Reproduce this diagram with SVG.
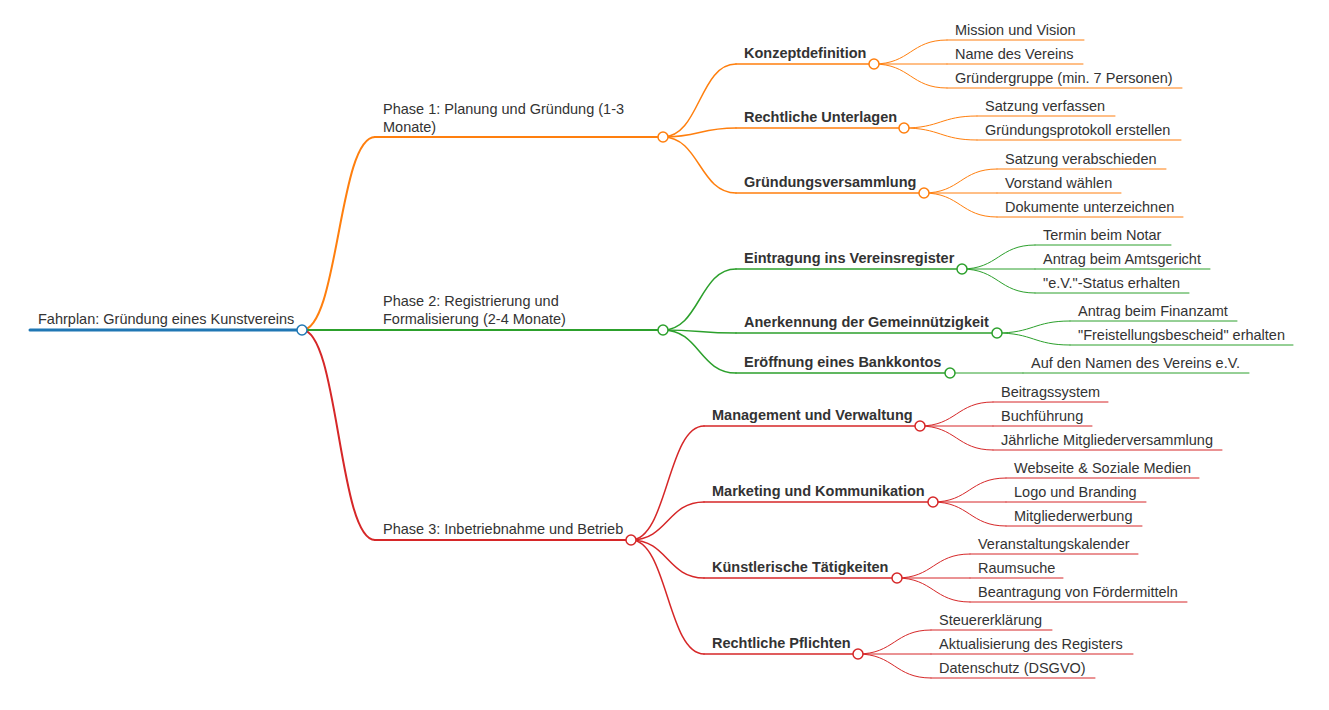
<svg xmlns="http://www.w3.org/2000/svg" width="1329" height="710" viewBox="0 0 1329 710">
<style>
.t{font-family:"Liberation Sans",Arial,sans-serif;font-size:14.5px;fill:#333}
.b{font-weight:bold}
path,line{fill:none;stroke-linecap:round}
circle{fill:#fff;stroke-width:1.5}
.bl{stroke:#1f77b4}.o{stroke:#ff7f0e}.g{stroke:#2ca02c}.r{stroke:#d62728}
.w0{stroke-width:3}.w1{stroke-width:2}.w2{stroke-width:1.5}.w3{stroke-width:1}
</style>
<rect width="1329" height="710" fill="#fff"/>
<g id="connectors">
<path class="o w1" d="M302,330 C338.5,330 338.5,137 375,137"/>
<path class="g w1" d="M302,330 L375,330"/>
<path class="r w1" d="M302,330 C338.5,330 338.5,540 375,540"/>
<path class="o w2" d="M663,137 C699.5,137 699.5,64 736,64"/>
<path class="o w2" d="M663,137 C699.5,137 699.5,128 736,128"/>
<path class="o w2" d="M663,137 C699.5,137 699.5,193 736,193"/>
<path class="g w2" d="M663,330 C699.5,330 699.5,269 736,269"/>
<path class="g w2" d="M663,330 C699.5,330 699.5,333 736,333"/>
<path class="g w2" d="M663,330 C699.5,330 699.5,373 736,373"/>
<path class="r w2" d="M631,540 C667.5,540 667.5,426 704,426"/>
<path class="r w2" d="M631,540 C667.5,540 667.5,502 704,502"/>
<path class="r w2" d="M631,540 C667.5,540 667.5,578 704,578"/>
<path class="r w2" d="M631,540 C667.5,540 667.5,654 704,654"/>
<path class="o w3" d="M874,64 C910.5,64 910.5,40 947,40"/>
<path class="o w3" d="M874,64 L947,64"/>
<path class="o w3" d="M874,64 C910.5,64 910.5,88 947,88"/>
<path class="o w3" d="M904,128 C940.5,128 940.5,116 977,116"/>
<path class="o w3" d="M904,128 C940.5,128 940.5,140 977,140"/>
<path class="o w3" d="M924,193 C960.5,193 960.5,169 997,169"/>
<path class="o w3" d="M924,193 L997,193"/>
<path class="o w3" d="M924,193 C960.5,193 960.5,217 997,217"/>
<path class="g w3" d="M962,269 C998.5,269 998.5,245 1035,245"/>
<path class="g w3" d="M962,269 L1035,269"/>
<path class="g w3" d="M962,269 C998.5,269 998.5,293 1035,293"/>
<path class="g w3" d="M997,333 C1033.5,333 1033.5,321 1070,321"/>
<path class="g w3" d="M997,333 C1033.5,333 1033.5,345 1070,345"/>
<path class="g w3" d="M950,373 L1023,373"/>
<path class="r w3" d="M920,426 C956.5,426 956.5,402 993,402"/>
<path class="r w3" d="M920,426 L993,426"/>
<path class="r w3" d="M920,426 C956.5,426 956.5,450 993,450"/>
<path class="r w3" d="M933,502 C969.5,502 969.5,478 1006,478"/>
<path class="r w3" d="M933,502 L1006,502"/>
<path class="r w3" d="M933,502 C969.5,502 969.5,526 1006,526"/>
<path class="r w3" d="M897,578 C933.5,578 933.5,554 970,554"/>
<path class="r w3" d="M897,578 L970,578"/>
<path class="r w3" d="M897,578 C933.5,578 933.5,602 970,602"/>
<path class="r w3" d="M858,654 C894.5,654 894.5,630 931,630"/>
<path class="r w3" d="M858,654 L931,654"/>
<path class="r w3" d="M858,654 C894.5,654 894.5,678 931,678"/>
</g>

<g id="root"><line class="bl w0" x1="30" y1="330" x2="302" y2="330"/><circle class="bl" cx="302" cy="330" r="5"/><text class="t" x="38" y="324">Fahrplan: Gründung eines Kunstvereins</text></g>

<g id="phase1"><line class="o w1" x1="375" y1="137" x2="663" y2="137"/><circle class="o" cx="663" cy="137" r="5"/><text class="t" x="383" y="114">Phase 1: Planung und Gründung (1-3</text><text class="t" x="383" y="132">Monate)</text></g>
<g id="phase2"><line class="g w1" x1="375" y1="330" x2="663" y2="330"/><circle class="g" cx="663" cy="330" r="5"/><text class="t" x="383" y="306">Phase 2: Registrierung und</text><text class="t" x="383" y="324">Formalisierung (2-4 Monate)</text></g>
<g id="phase3"><line class="r w1" x1="375" y1="540" x2="631" y2="540"/><circle class="r" cx="631" cy="540" r="5"/><text class="t" x="383" y="534">Phase 3: Inbetriebnahme und Betrieb</text></g>

<g id="konzept"><line class="o w2" x1="736" y1="64" x2="874" y2="64"/><circle class="o" cx="874" cy="64" r="5"/><text class="t b" x="744" y="58">Konzeptdefinition</text></g>
<g id="unterlagen"><line class="o w2" x1="736" y1="128" x2="904" y2="128"/><circle class="o" cx="904" cy="128" r="5"/><text class="t b" x="744" y="122">Rechtliche Unterlagen</text></g>
<g id="versammlung"><line class="o w2" x1="736" y1="193" x2="924" y2="193"/><circle class="o" cx="924" cy="193" r="5"/><text class="t b" x="744" y="187">Gründungsversammlung</text></g>
<g id="eintragung"><line class="g w2" x1="736" y1="269" x2="962" y2="269"/><circle class="g" cx="962" cy="269" r="5"/><text class="t b" x="744" y="263">Eintragung ins Vereinsregister</text></g>
<g id="anerkennung"><line class="g w2" x1="736" y1="333" x2="997" y2="333"/><circle class="g" cx="997" cy="333" r="5"/><text class="t b" x="744" y="327">Anerkennung der Gemeinnützigkeit</text></g>
<g id="bankkonto"><line class="g w2" x1="736" y1="373" x2="950" y2="373"/><circle class="g" cx="950" cy="373" r="5"/><text class="t b" x="744" y="367">Eröffnung eines Bankkontos</text></g>
<g id="management"><line class="r w2" x1="704" y1="426" x2="920" y2="426"/><circle class="r" cx="920" cy="426" r="5"/><text class="t b" x="712" y="420">Management und Verwaltung</text></g>
<g id="marketing"><line class="r w2" x1="704" y1="502" x2="933" y2="502"/><circle class="r" cx="933" cy="502" r="5"/><text class="t b" x="712" y="496">Marketing und Kommunikation</text></g>
<g id="kuenstlerisch"><line class="r w2" x1="704" y1="578" x2="897" y2="578"/><circle class="r" cx="897" cy="578" r="5"/><text class="t b" x="712" y="572">Künstlerische Tätigkeiten</text></g>
<g id="pflichten"><line class="r w2" x1="704" y1="654" x2="858" y2="654"/><circle class="r" cx="858" cy="654" r="5"/><text class="t b" x="712" y="648">Rechtliche Pflichten</text></g>

<g id="l-mission"><line class="o w3" x1="947" y1="40" x2="1084" y2="40"/><text class="t" x="955" y="35">Mission und Vision</text></g>
<g id="l-name"><line class="o w3" x1="947" y1="64" x2="1083" y2="64"/><text class="t" x="955" y="59">Name des Vereins</text></g>
<g id="l-gruender"><line class="o w3" x1="947" y1="88" x2="1182" y2="88"/><text class="t" x="955" y="83">Gründergruppe (min. 7 Personen)</text></g>
<g id="l-satzung"><line class="o w3" x1="977" y1="116" x2="1115" y2="116"/><text class="t" x="985" y="111">Satzung verfassen</text></g>
<g id="l-protokoll"><line class="o w3" x1="977" y1="140" x2="1181" y2="140"/><text class="t" x="985" y="135">Gründungsprotokoll erstellen</text></g>
<g id="l-verabschieden"><line class="o w3" x1="997" y1="169" x2="1166" y2="169"/><text class="t" x="1005" y="164">Satzung verabschieden</text></g>
<g id="l-vorstand"><line class="o w3" x1="997" y1="193" x2="1121" y2="193"/><text class="t" x="1005" y="188">Vorstand wählen</text></g>
<g id="l-dokumente"><line class="o w3" x1="997" y1="217" x2="1183" y2="217"/><text class="t" x="1005" y="212">Dokumente unterzeichnen</text></g>
<g id="l-notar"><line class="g w3" x1="1035" y1="245" x2="1171" y2="245"/><text class="t" x="1043" y="240">Termin beim Notar</text></g>
<g id="l-amtsgericht"><line class="g w3" x1="1035" y1="269" x2="1210" y2="269"/><text class="t" x="1043" y="264">Antrag beim Amtsgericht</text></g>
<g id="l-status"><line class="g w3" x1="1035" y1="293" x2="1189" y2="293"/><text class="t" x="1043" y="288">"e.V."-Status erhalten</text></g>
<g id="l-finanzamt"><line class="g w3" x1="1070" y1="321" x2="1237" y2="321"/><text class="t" x="1078" y="316">Antrag beim Finanzamt</text></g>
<g id="l-freistellung"><line class="g w3" x1="1070" y1="345" x2="1293" y2="345"/><text class="t" x="1078" y="340">"Freistellungsbescheid" erhalten</text></g>
<g id="l-namen"><line class="g w3" x1="1023" y1="373" x2="1249" y2="373"/><text class="t" x="1031" y="368">Auf den Namen des Vereins e.V.</text></g>
<g id="l-beitrag"><line class="r w3" x1="993" y1="402" x2="1108" y2="402"/><text class="t" x="1001" y="397">Beitragssystem</text></g>
<g id="l-buchfuehrung"><line class="r w3" x1="993" y1="426" x2="1092" y2="426"/><text class="t" x="1001" y="421">Buchführung</text></g>
<g id="l-mv"><line class="r w3" x1="993" y1="450" x2="1222" y2="450"/><text class="t" x="1001" y="445">Jährliche Mitgliederversammlung</text></g>
<g id="l-webseite"><line class="r w3" x1="1006" y1="478" x2="1199" y2="478"/><text class="t" x="1014" y="473">Webseite &amp; Soziale Medien</text></g>
<g id="l-logo"><line class="r w3" x1="1006" y1="502" x2="1146" y2="502"/><text class="t" x="1014" y="497">Logo und Branding</text></g>
<g id="l-werbung"><line class="r w3" x1="1006" y1="526" x2="1142" y2="526"/><text class="t" x="1014" y="521">Mitgliederwerbung</text></g>
<g id="l-kalender"><line class="r w3" x1="970" y1="554" x2="1138" y2="554"/><text class="t" x="978" y="549">Veranstaltungskalender</text></g>
<g id="l-raum"><line class="r w3" x1="970" y1="578" x2="1063" y2="578"/><text class="t" x="978" y="573">Raumsuche</text></g>
<g id="l-foerder"><line class="r w3" x1="970" y1="602" x2="1187" y2="602"/><text class="t" x="978" y="597">Beantragung von Fördermitteln</text></g>
<g id="l-steuer"><line class="r w3" x1="931" y1="630" x2="1052" y2="630"/><text class="t" x="939" y="625">Steuererklärung</text></g>
<g id="l-register"><line class="r w3" x1="931" y1="654" x2="1133" y2="654"/><text class="t" x="939" y="649">Aktualisierung des Registers</text></g>
<g id="l-dsgvo"><line class="r w3" x1="931" y1="678" x2="1095" y2="678"/><text class="t" x="939" y="673">Datenschutz (DSGVO)</text></g>
</svg>
